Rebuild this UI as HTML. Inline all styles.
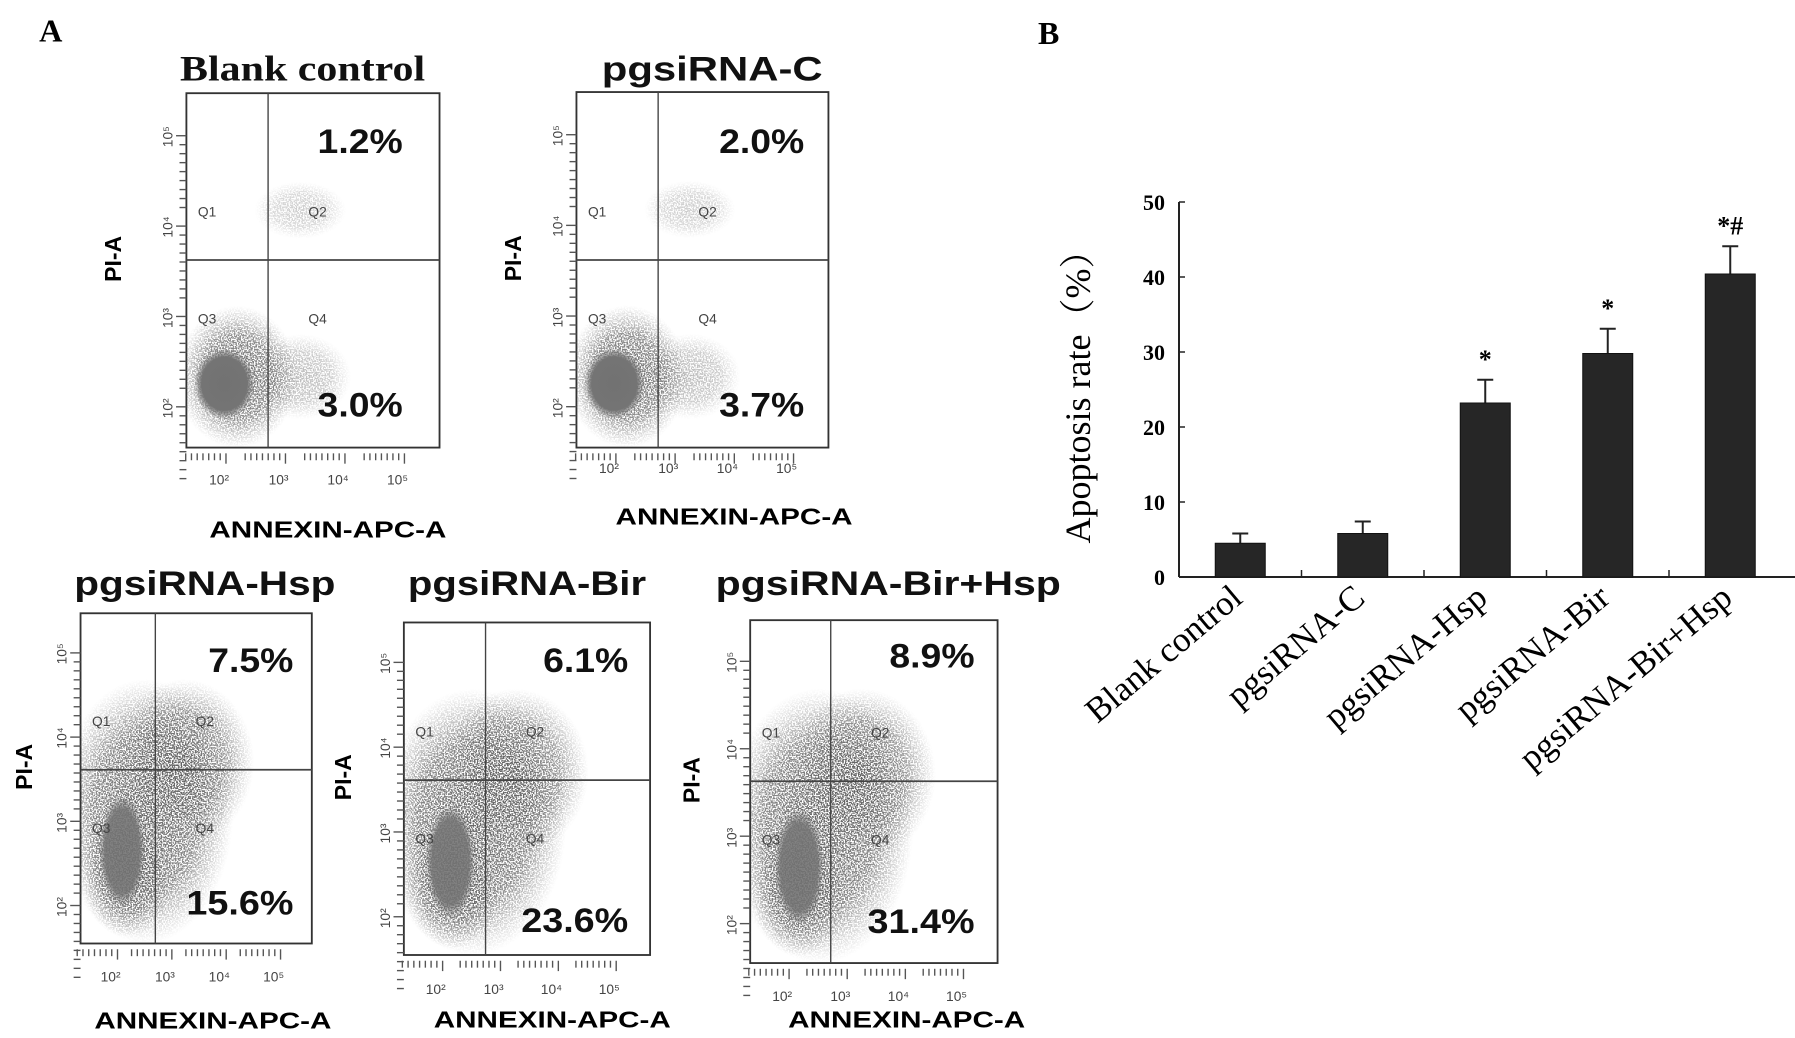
<!DOCTYPE html>
<html><head><meta charset="utf-8">
<style>
html,body{margin:0;padding:0;background:#fff;}
svg{display:block;}
.sans{font-family:"Liberation Sans",Arial,sans-serif;}
.serif{font-family:"Liberation Serif","Times New Roman",serif;}
</style></head>
<body>
<svg id="fig" width="1795" height="1038" viewBox="0 0 1795 1038" xmlns="http://www.w3.org/2000/svg">
<defs>
  <radialGradient id="blob" cx="50%" cy="50%" r="50%">
    <stop offset="0%" stop-color="#555" stop-opacity="1"/>
    <stop offset="60%" stop-color="#666" stop-opacity="0.8"/>
    <stop offset="100%" stop-color="#888" stop-opacity="0"/>
  </radialGradient>
  <radialGradient id="core" cx="50%" cy="50%" r="50%">
    <stop offset="0%" stop-color="#727272" stop-opacity="1"/>
    <stop offset="75%" stop-color="#747474" stop-opacity="1"/>
    <stop offset="100%" stop-color="#777" stop-opacity="0"/>
  </radialGradient>
  <filter id="speckle" x="0" y="0" width="100%" height="100%">
    <feTurbulence type="fractalNoise" baseFrequency="0.8" numOctaves="1" seed="3" result="n"/>
    <feColorMatrix in="n" type="matrix" values="0 0 0 0 0  0 0 0 0 0  0 0 0 0 0  0 0 0 -8 4.6" result="m"/>
    <feComposite in="SourceGraphic" in2="m" operator="in"/>
  </filter>
</defs>
<g id="panelA" transform="scale(1.1506)"></g>
<g id="panelB"></g>
</svg>
<script>
// ---------- Panel B data ----------
const categories = ["Blank control","pgsiRNA-C","pgsiRNA-Hsp","pgsiRNA-Bir","pgsiRNA-Bir+Hsp"];
const rates = [4.5, 5.8, 23.2, 29.8, 40.4];
const errors = [1.3, 1.6, 3.1, 3.3, 3.7];
const marks = ["", "", "*", "*", "*#"];
const yTicks = [0,10,20,30,40,50];

// ---------- Panel A data ----------
const flowTitles = ["Blank control","pgsiRNA-C","pgsiRNA-Hsp","pgsiRNA-Bir","pgsiRNA-Bir+Hsp"];
const q2Pct = ["1.2%","2.0%","7.5%","6.1%","8.9%"];
const q4Pct = ["3.0%","3.7%","15.6%","23.6%","31.4%"];

const NS = "http://www.w3.org/2000/svg";
function mk(tag, attrs, parent){const e=document.createElementNS(NS,tag);for(const k in attrs)e.setAttribute(k,attrs[k]);parent.appendChild(e);return e;}

const A = document.getElementById('panelA');
const lblA = mk('text',{x:34,y:36,'font-size':28,'font-weight':'bold',class:'serif'},A);
lblA.textContent='A';



const boxes = [
 {x0:162,y0:81,x1:382,y1:389,vx:233,hy:226,tx:263,ty:70,tw:213,serif:true,px:97,ax:285,ay:467,tl:421,pr:32,t2:133,t4:362,spread:0},
 {x0:501,y0:80,x1:720,y1:389,vx:572,hy:226,tx:619,ty:70,tw:192,px:445,ax:638,ay:456,tl:411,pr:21,t2:133,t4:362,spread:0.2},
 {x0:70,y0:533,x1:271,y1:820,vx:135,hy:669,tx:178,ty:517,tw:227,px:20,ax:185,ay:894,tl:853,pr:16,t2:584,t4:795,spread:1},
 {x0:351,y0:541,x1:565,y1:830,vx:422,hy:678,tx:458,ty:517,tw:207,px:297,ax:480,ay:893,tl:864,pr:19,t2:584,t4:810,spread:1.3},
 {x0:652,y0:539,x1:867,y1:837,vx:722,hy:679,tx:772,ty:517,tw:300,px:600,ax:788,ay:893,tl:870,pr:20,t2:580,t4:811,spread:1.6}
];
boxes.forEach((b,i)=>{
  const g=mk('g',{},A);
  
  
  const w=b.x1-b.x0,h=b.y1-b.y0;
  const cp='cp'+i;
  const clip=mk('clipPath',{id:cp},g);
  mk('rect',{x:b.x0,y:b.y0,width:w,height:h},clip);
  const cg=mk('g',{'clip-path':`url(#${cp})`},g);
  const bg=mk('g',{filter:'url(#speckle)'},cg);
  mk('rect',{x:b.x0,y:b.y0,width:w,height:h,fill:'none'},bg);
  const s=b.spread;
  if(s<0.5){
    mk('ellipse',{cx:b.x0+w*0.2,cy:b.y0+h*0.8,rx:w*0.24,ry:h*0.2,fill:'url(#blob)',opacity:0.9},bg);
    mk('ellipse',{cx:b.x0+w*0.45,cy:b.y0+h*0.8,rx:w*0.2,ry:h*0.12,fill:'url(#blob)',opacity:0.4},bg);
    mk('ellipse',{cx:b.x0+w*0.45,cy:b.y0+h*0.33,rx:w*0.18,ry:h*0.08,fill:'url(#blob)',opacity:0.3},bg);
  } else {
    mk('ellipse',{cx:b.x0+w*0.28,cy:b.y0+h*0.6,rx:w*0.38,ry:h*0.4,fill:'url(#blob)',opacity:0.95},bg);
    mk('ellipse',{cx:b.x0+w*0.45,cy:b.y0+h*0.45,rx:w*0.3,ry:h*0.25,fill:'url(#blob)',opacity:0.8},bg);
    mk('ellipse',{cx:b.x0+w*0.2,cy:b.y0+h*0.78,rx:w*0.2,ry:h*0.2,fill:'url(#blob)',opacity:0.9},bg);
  }
  let core;
  if(s<0.5) core=mk('ellipse',{cx:b.x0+w*0.15,cy:b.y0+h*0.82,rx:w*0.12,ry:h*0.1,fill:'url(#core)'},cg);
  else core=mk('ellipse',{cx:b.x0+w*(0.18+0.03*(s-1)),cy:b.y0+h*0.72,rx:w*0.1,ry:h*0.17,fill:'url(#core)',opacity:0.9},cg);
  
  
  mk('rect',{x:b.x0,y:b.y0,width:w,height:h,fill:'none',stroke:'#333','stroke-width':1.6},g);
  mk('line',{x1:b.vx,y1:b.y0,x2:b.vx,y2:b.y1,stroke:'#444','stroke-width':1.2},g);
  mk('line',{x1:b.x0,y1:b.hy,x2:b.x1,y2:b.hy,stroke:'#444','stroke-width':1.5},g);
  [['Q1',b.x0+10,b.hy-38],['Q2',b.vx+35,b.hy-38],['Q3',b.x0+10,b.hy+55],['Q4',b.vx+35,b.hy+55]].forEach(q=>{
    const t=mk('text',{x:q[1],y:q[2],'font-size':12,fill:'#444',class:'sans'},g);t.textContent=q[0];
  });
  for(let k=0;k<4;k++){
    const yy=b.y0+h*(0.12+k*0.255);
    for(let m=0;m<9;m++) mk('line',{x1:b.x0-6+(m==0?-3:0),y1:yy+m*7.8,x2:b.x0,y2:yy+m*7.8,stroke:'#555','stroke-width':1.2},g);
    const t=mk('text',{x:0,y:0,'font-size':12,fill:'#444',class:'sans',transform:`translate(${b.x0-12},${yy+10}) rotate(-90)`},g);t.textContent='10'+['⁵','⁴','³','²'][k];
    const xx=b.x0+w*(0.12+k*0.235);
    for(let m=0;m<8;m++) mk('line',{x1:xx+8-m*5,y1:b.y1+5,x2:xx+8-m*5,y2:b.y1+11+(m==0?3:0),stroke:'#555','stroke-width':1.2},g);
    const t2=mk('text',{x:xx+2,y:b.tl,'font-size':12,fill:'#444',class:'sans','text-anchor':'middle'},g);t2.textContent='10'+['²','³','⁴','⁵'][k];
  }
  const title=mk('text',{x:b.tx,y:b.ty,'font-size':b.serif?31:30,'text-anchor':'middle',class:b.serif?'serif':'sans','font-weight':'bold','textLength':b.tw,'lengthAdjust':'spacingAndGlyphs',fill:'#111'},g);
  title.textContent=flowTitles[i];
  
  
  const p2=mk('text',{x:b.x1-b.pr,y:b.t2,'font-size':30,'font-weight':'bold','text-anchor':'end',class:'sans',fill:'#111',textLength:74,lengthAdjust:'spacingAndGlyphs'},g);
  p2.textContent=q2Pct[i];
  
  
  const p4=mk('text',{x:b.x1-b.pr,y:b.t4,'font-size':30,'font-weight':'bold','text-anchor':'end',class:'sans',fill:'#111',textLength:q4Pct[i].length>4?93:74,lengthAdjust:'spacingAndGlyphs'},g);
  p4.textContent=q4Pct[i];
  
  
  const pa=mk('text',{x:0,y:0,'font-size':20,'font-weight':'bold',class:'sans','text-anchor':'middle',transform:`translate(${b.px+8},${(b.y0+b.y1)/2-10}) rotate(-90)`},g);
  pa.textContent='PI-A';
  
  
  const ax=mk('text',{x:b.ax,y:b.ay,'font-size':20,'font-weight':'bold',class:'sans','text-anchor':'middle',textLength:206,lengthAdjust:'spacingAndGlyphs'},g);
  ax.textContent='ANNEXIN-APC-A';
  
  
});

// ---------- Panel B chart ----------
const B=document.getElementById('panelB');
const lblB=mk('text',{x:1038,y:44,'font-size':32,'font-weight':'bold',class:'serif'},B);
lblB.textContent='B';


const X0=1179, X1=1795, Y0=577, Y50=202, band=122.5, barW=50;
const yScale=v=>Y0-(v/50)*(Y0-Y50);
const xCenter=i=>X0+band*(i+0.5);
mk('line',{x1:X0,y1:Y50,x2:X0,y2:Y0,stroke:'#222','stroke-width':2},B);
mk('line',{x1:X0,y1:Y0,x2:X1,y2:Y0,stroke:'#222','stroke-width':2},B);
yTicks.forEach(v=>{
  mk('line',{x1:X0,y1:yScale(v),x2:X0+6,y2:yScale(v),stroke:'#222','stroke-width':1.5},B);
  const t=mk('text',{x:X0-14,y:yScale(v)+8,'font-size':22,'font-weight':'bold','text-anchor':'end',class:'serif'},B);
  t.textContent=v;
  
  
});
for(let i=1;i<categories.length;i++) mk('line',{x1:X0+band*i,y1:Y0,x2:X0+band*i,y2:Y0-7,stroke:'#222','stroke-width':1.5},B);
categories.forEach((c,i)=>{
  const cx=xCenter(i);
  const top=yScale(rates[i]), et=yScale(rates[i]+errors[i]);
  mk('line',{x1:cx,y1:et,x2:cx,y2:top,stroke:'#222','stroke-width':2},B);
  mk('line',{x1:cx-8,y1:et,x2:cx+8,y2:et,stroke:'#222','stroke-width':2},B);
  const r=mk('rect',{x:cx-barW/2,y:top,width:barW,height:Y0-top,fill:'#262626',stroke:'#111','stroke-width':1},B);
  
  
  if(marks[i]){
    const m=mk('text',{x:cx,y:et-12,'font-size':26,'font-weight':'bold','text-anchor':'middle',class:'serif'},B);
    m.textContent=marks[i];
    
    
  }
  const l=mk('text',{x:0,y:0,'font-size':35,'text-anchor':'end',class:'serif',transform:`translate(${cx+4},${Y0+24}) rotate(-40)`},B);
  l.textContent=c;
  
  
});
const yt=mk('text',{x:0,y:0,'font-size':36,'text-anchor':'middle',class:'serif',transform:`translate(1090,388) rotate(-90)`},B);
yt.textContent='Apoptosis rate（%）';


yt.setAttribute('style','font-family:"Liberation Serif","Noto Serif CJK SC",serif');
</script>
</body></html>
